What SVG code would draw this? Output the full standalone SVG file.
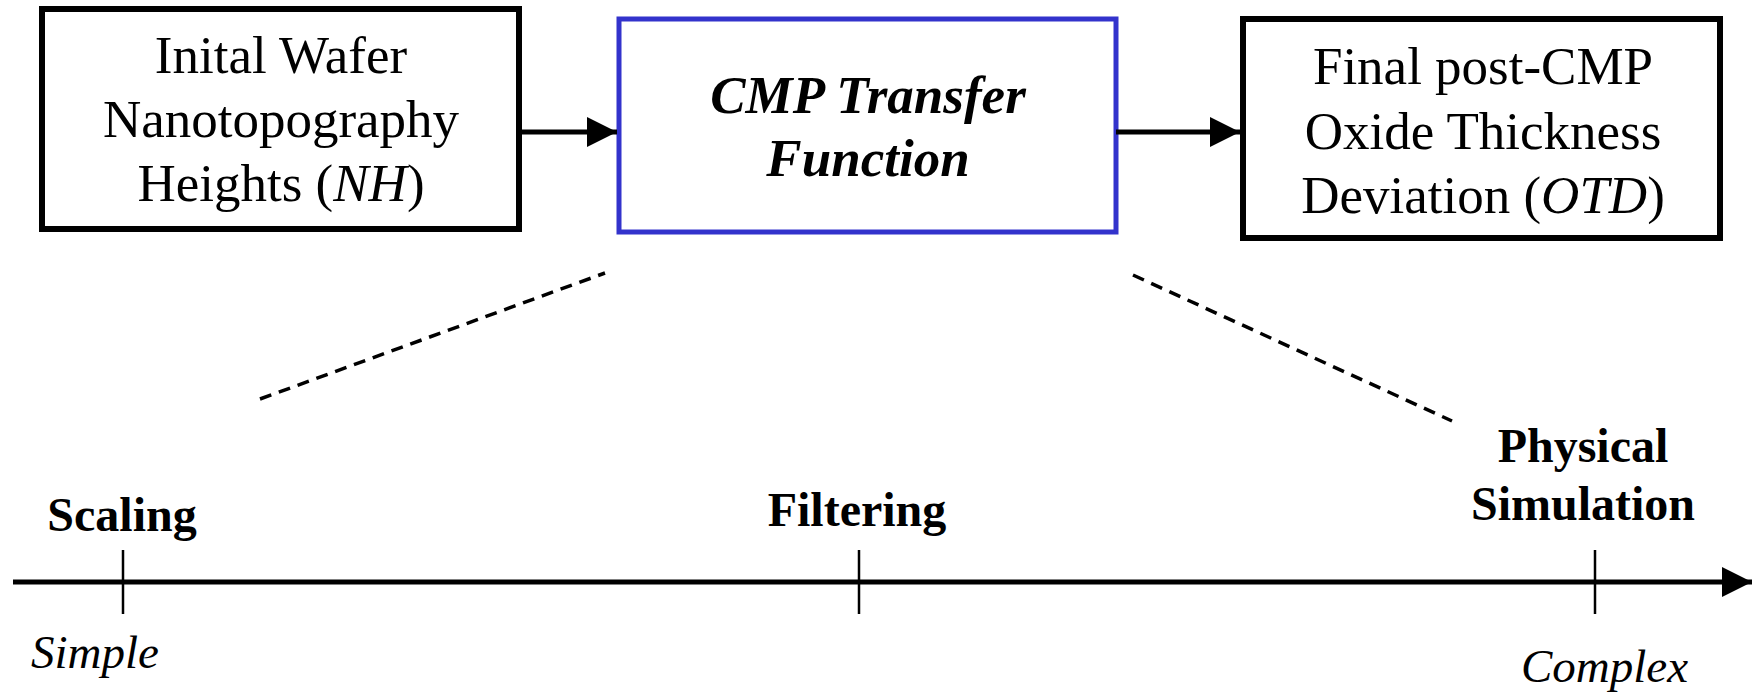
<svg xmlns="http://www.w3.org/2000/svg" width="1754" height="696" viewBox="0 0 1754 696">
<defs>
<style>
.box{fill:#fff;stroke:#000;stroke-width:6}
.blue{fill:#fff;stroke:#3333cc;stroke-width:5}
.t{font-family:"Liberation Serif","Times New Roman",serif;font-size:53px;fill:#000;text-anchor:middle}
.bi{font-weight:bold;font-style:italic}
.lab{font-family:"Liberation Serif","Times New Roman",serif;font-size:48px;font-weight:bold;fill:#000;text-anchor:middle}
.it{font-family:"Liberation Serif","Times New Roman",serif;font-size:47px;font-style:italic;fill:#000}
.conn{stroke:#000;stroke-width:5;fill:none}
.dash{stroke:#000;stroke-width:3.5;fill:none;stroke-dasharray:12 8}
.tick{stroke:#000;stroke-width:2.5}
</style>
<marker id="ah" markerWidth="6" markerHeight="6" refX="6" refY="3" orient="auto" markerUnits="strokeWidth">
<path d="M0,0 L6,3 L0,6 Z" fill="#000"/>
</marker>
</defs>
<rect width="1754" height="696" fill="#fff"/>
<g id="node-input">
<rect class="box" x="42" y="9" width="477" height="220"/>
<text class="t" x="281" y="73">Inital Wafer</text>
<text class="t" x="281" y="137">Nanotopography</text>
<text class="t" x="281" y="201">Heights (<tspan font-style="italic">NH</tspan>)</text>
</g>
<g id="node-cmp">
<rect class="blue" x="619" y="19" width="497" height="213"/>
<text class="t bi" x="868" y="113">CMP Transfer</text>
<text class="t bi" x="868" y="176">Function</text>
</g>
<g id="node-output">
<rect class="box" x="1243" y="19" width="477" height="219"/>
<text class="t" x="1483" y="84">Final post-CMP</text>
<text class="t" x="1483" y="149">Oxide Thickness</text>
<text class="t" x="1483" y="213">Deviation (<tspan font-style="italic">OTD</tspan>)</text>
</g>
<g id="connectors">
<line class="conn" x1="519" y1="132" x2="617" y2="132" marker-end="url(#ah)"/>
<line class="conn" x1="1116" y1="132" x2="1240" y2="132" marker-end="url(#ah)"/>
<line class="dash" x1="260" y1="399" x2="605" y2="273"/>
<line class="dash" x1="1133" y1="275" x2="1452" y2="421"/>
<line class="conn" x1="13" y1="582" x2="1752" y2="582" marker-end="url(#ah)"/>
<line class="tick" x1="123" y1="550" x2="123" y2="614"/>
<line class="tick" x1="859" y1="550" x2="859" y2="614"/>
<line class="tick" x1="1595" y1="550" x2="1595" y2="614"/>
</g>
<g id="node-scaling"><text class="lab" x="122" y="531">Scaling</text></g>
<g id="node-filtering"><text class="lab" x="857" y="526">Filtering</text></g>
<g id="node-physical"><text class="lab" x="1583" y="462">Physical</text><text class="lab" x="1583" y="520">Simulation</text></g>
<g id="label-simple"><text class="it" x="31" y="668">Simple</text></g>
<g id="label-complex"><text class="it" x="1521" y="682">Complex</text></g>
</svg>
